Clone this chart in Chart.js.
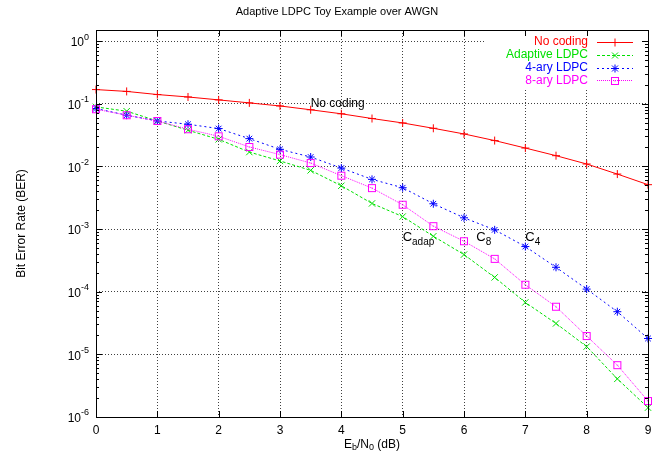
<!DOCTYPE html>
<html>
<head>
<meta charset="utf-8">
<script src="https://cdn.jsdelivr.net/npm/chart.js@4"></script>
<style>
  html, body { margin: 0; padding: 0; background: #fff; }
  #wrap { width: 667px; height: 459px; }
</style>
</head>
<body>
<div id="wrap"><canvas id="ber-chart"></canvas></div>
<script>
// Eb/N0 in dB, one point every half dB
var ebno = [0,0.5,1,1.5,2,2.5,3,3.5,4,4.5,5,5.5,6,6.5,7,7.5,8,8.5,9];
// BER curves
var noCoding = [0.168,0.157,0.140,0.128,0.115,0.103,0.092,0.080,0.069,0.058,0.0493,0.0405,0.0329,0.0258,0.0196,0.0148,0.0109,0.00753,0.0051];
var adaptive = [0.0889,0.0759,0.053,0.0377,0.027,0.0169,0.0122,0.00863,0.0049,0.00256,0.00158,0.000767,0.000391,0.000169,0.0000674,0.0000311,0.0000133,0.00000406,0.00000141];
var ary4 = [0.0838,0.0655,0.053,0.047,0.0401,0.0277,0.0187,0.0141,0.0094,0.0062,0.00456,0.00253,0.00151,0.00097,0.000525,0.000245,0.00011,0.0000479,0.0000179];
var ary8 = [0.0817,0.0655,0.053,0.0391,0.0302,0.0204,0.0154,0.0113,0.0071,0.0045,0.00244,0.00111,0.000638,0.000334,0.000129,0.0000575,0.0000196,0.00000672,0.0000018];
// axis ticks
var xTicks = [0,1,2,3,4,5,6,7,8,9];
var yExponents = [-6,-5,-4,-3,-2,-1,0];
var seriesNames = ["No coding", "Adaptive LDPC", "4-ary LDPC", "8-ary LDPC"];

var FONT = '"Liberation Sans", Arial, sans-serif';
var RED = '#ff0000', GREEN = '#00e000', BLUE = '#0000ff', MAGENTA = '#ff00ff';

function pts(arr) {
  return ebno.map(function (x, i) { return { x: x, y: arr[i] }; });
}

// open square with a dot, like gnuplot's point type 4
var sq = document.createElement('canvas');
sq.width = 10; sq.height = 10;
var sc = sq.getContext('2d');
sc.strokeStyle = MAGENTA; sc.lineWidth = 1;
sc.strokeRect(1.5, 1.5, 7, 7);
sc.fillStyle = MAGENTA;
sc.fillRect(4.5, 4.5, 1, 1);

function marker(ctx, style, x, y, color) {
  ctx.save();
  ctx.strokeStyle = color; ctx.lineWidth = 1; ctx.setLineDash([]);
  ctx.beginPath();
  if (style === 'cross' || style === 'star') {
    ctx.moveTo(x - 4, y); ctx.lineTo(x + 4, y);
    ctx.moveTo(x, y - 4); ctx.lineTo(x, y + 4);
  }
  if (style === 'crossRot' || style === 'star') {
    ctx.moveTo(x - 3, y - 3); ctx.lineTo(x + 3, y + 3);
    ctx.moveTo(x - 3, y + 3); ctx.lineTo(x + 3, y - 3);
  }
  ctx.stroke();
  if (style === 'square') ctx.drawImage(sq, Math.round(x) - 5, Math.round(y) - 5);
  ctx.restore();
}

// text with a raised or lowered small part: parts = [[text, size, dy], ...]
function richText(ctx, parts, x, y, align) {
  var total = 0;
  parts.forEach(function (p) { ctx.font = p[1] + 'px ' + FONT; total += ctx.measureText(p[0]).width; });
  var cx = align === 'center' ? x - total / 2 : (align === 'right' ? x - total : x);
  ctx.textAlign = 'left'; ctx.textBaseline = 'middle';
  parts.forEach(function (p) {
    ctx.font = p[1] + 'px ' + FONT;
    ctx.fillText(p[0], cx, y + p[2]);
    cx += ctx.measureText(p[0]).width;
  });
}

var gnuplotLook = {
  id: 'gnuplotLook',
  beforeDatasetsDraw: function (chart) {
    // key box hides the grid behind it
    var a = chart.chartArea, ctx = chart.ctx;
    ctx.save();
    ctx.fillStyle = '#fff';
    ctx.fillRect(a.right - 162, a.top + 1, 161, 58);
    ctx.restore();
  },
  afterDraw: function (chart) {
    var a = chart.chartArea, ctx = chart.ctx;
    var xs = chart.scales.x, ys = chart.scales.y;
    ctx.save();
    ctx.fillStyle = '#000';
    ctx.strokeStyle = '#000';
    ctx.lineWidth = 1;
    ctx.strokeRect(Math.round(a.left) + 0.5, Math.round(a.top) + 0.5,
      Math.round(a.right - a.left), Math.round(a.bottom - a.top));

    // tic marks
    ctx.beginPath();
    xTicks.forEach(function (v) {
      var px = Math.round(xs.getPixelForValue(v)) + 0.5;
      ctx.moveTo(px, a.bottom); ctx.lineTo(px, a.bottom - 6);
      ctx.moveTo(px, a.top); ctx.lineTo(px, a.top + 6);
    });
    yExponents.forEach(function (e) {
      for (var k = 1; k <= 9; k++) {
        var v = k * Math.pow(10, e);
        if (v > ys.max || v < ys.min) continue;
        var py = Math.round(ys.getPixelForValue(v)) + 0.5;
        var len = k === 1 ? 6 : 3;
        ctx.moveTo(a.left, py); ctx.lineTo(a.left + len, py);
        ctx.moveTo(a.right, py); ctx.lineTo(a.right - len, py);
      }
    });
    ctx.stroke();

    // tick labels
    ctx.font = '12px ' + FONT;
    ctx.textAlign = 'center'; ctx.textBaseline = 'middle';
    xTicks.forEach(function (v) {
      ctx.fillText(String(v), xs.getPixelForValue(v), a.bottom + 14);
    });
    yExponents.forEach(function (e) {
      var py = ys.getPixelForValue(Math.pow(10, e));
      richText(ctx, [['10', 12, 2], [String(e).replace('-', '-'), 9, -4]], a.left - 7, py, 'right');
    });

    // axis titles and title
    richText(ctx, [['E', 12, 0], ['b', 9, 3], ['/N', 12, 0], ['0', 9, 3], [' (dB)', 12, 0]],
      (a.left + a.right) / 2, 445, 'center');
    ctx.save();
    ctx.translate(22, (a.top + a.bottom) / 2);
    ctx.rotate(-Math.PI / 2);
    ctx.font = '12px ' + FONT;
    ctx.textAlign = 'center'; ctx.textBaseline = 'middle';
    ctx.fillText('Bit Error Rate (BER)', 0, 0);
    ctx.restore();
    ctx.font = '11px ' + FONT;
    ctx.textAlign = 'center'; ctx.textBaseline = 'middle';
    ctx.fillText('Adaptive LDPC Toy Example over AWGN', 337, 12);

    // labels on the curves
    ctx.font = '12px ' + FONT;
    ctx.textAlign = 'left';
    ctx.fillText('No coding', xs.getPixelForValue(3.5), ys.getPixelForValue(0.1));
    var ly = ys.getPixelForValue(7.4e-4);
    richText(ctx, [['C', 13, 0], ['adap', 10, 5]], xs.getPixelForValue(5), ly, 'left');
    richText(ctx, [['C', 13, 0], ['8', 10, 5]], xs.getPixelForValue(6.2), ly, 'left');
    richText(ctx, [['C', 13, 0], ['4', 10, 5]], xs.getPixelForValue(7.0), ly, 'left');

    // key
    var styles = ['cross', 'crossRot', 'star', 'square'];
    var dashes = [[], [3, 2], [2, 3], [1, 1]];
    chart.data.datasets.forEach(function (ds, i) {
      var y = a.top + 12 + i * 12.8;
      ctx.font = '12px ' + FONT;
      ctx.fillStyle = ds.borderColor;
      ctx.textAlign = 'right'; ctx.textBaseline = 'middle';
      ctx.fillText(seriesNames[i], a.right - 60, y);
      ctx.strokeStyle = ds.borderColor;
      ctx.setLineDash(dashes[i]);
      ctx.beginPath();
      ctx.moveTo(a.right - 51, Math.round(y) + 0.5);
      ctx.lineTo(a.right - 15, Math.round(y) + 0.5);
      ctx.stroke();
      marker(ctx, styles[i], a.right - 33, Math.round(y) + 0.5, ds.borderColor);
    });
    ctx.restore();
  }
};

var ctx = document.getElementById('ber-chart');
var berChart = new Chart(ctx, {
  type: 'line',
  data: {
    datasets: [
      { label: seriesNames[0], data: pts(noCoding), borderColor: RED, pointStyle: 'cross', pointRadius: 4, order: 4 },
      { label: seriesNames[1], data: pts(adaptive), borderColor: GREEN, borderDash: [3, 2], pointStyle: 'crossRot', pointRadius: 4.5, order: 3 },
      { label: seriesNames[2], data: pts(ary4), borderColor: BLUE, borderDash: [2, 3], pointStyle: 'star', pointRadius: 4, order: 2 },
      { label: seriesNames[3], data: pts(ary8), borderColor: MAGENTA, borderDash: [1, 1], pointStyle: sq, order: 1 }
    ].map(function (d) {
      d.borderWidth = 1;
      d.pointBorderColor = d.borderColor;
      d.pointBorderWidth = 1;
      d.pointBackgroundColor = 'transparent';
      d.fill = false;
      d.tension = 0;
      d.clip = false;
      return d;
    })
  },
  options: {
    responsive: true,
    maintainAspectRatio: false,
    animation: false,
    events: [],
    layout: { padding: { top: 30, right: 19, left: 0, bottom: 0 } },
    plugins: { legend: { display: false }, title: { display: false }, tooltip: { enabled: false } },
    scales: {
      x: {
        type: 'linear', min: 0, max: 9,
        ticks: { stepSize: 1, display: false },
        grid: { color: 'rgba(0,0,0,0.75)', drawTicks: false },
        border: { display: false, dash: [1, 2] },
        afterFit: function (s) { s.height = 42; }
      },
      y: {
        type: 'logarithmic', min: 1e-6, max: 1.5,
        ticks: { display: false },
        grid: { color: 'rgba(0,0,0,0.75)', drawTicks: false },
        border: { display: false, dash: [1, 2] },
        afterBuildTicks: function (s) {
          s.ticks = yExponents.map(function (e) { return { value: Math.pow(10, e) }; });
        },
        afterFit: function (s) { s.width = 96; }
      }
    }
  },
  plugins: [gnuplotLook]
});
</script>
</body>
</html>
